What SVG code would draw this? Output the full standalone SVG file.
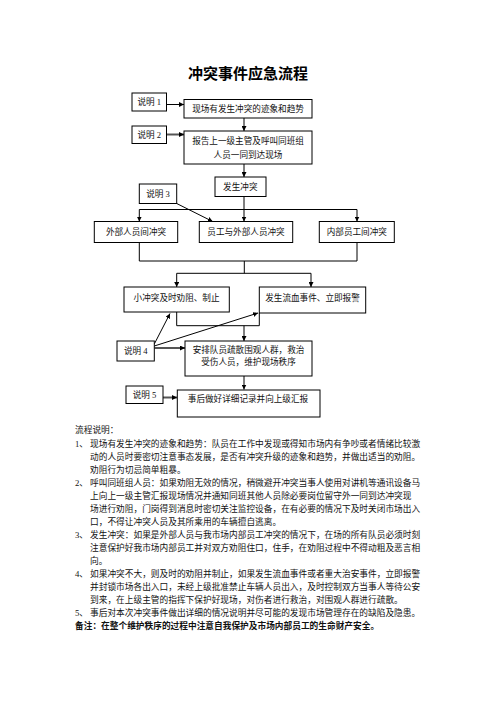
<svg xmlns="http://www.w3.org/2000/svg" width="496" height="702" viewBox="0 0 496 702">
<style>
.bx{fill:#fff;stroke:#000;stroke-width:1}
.t{font-family:"Liberation Serif","Noto Sans CJK SC",serif;font-size:8.6px;fill:#111;text-anchor:middle}
.n{font-family:"Liberation Serif","Noto Sans CJK SC",serif;font-size:8.7px;fill:#111}
.ln{fill:none;stroke:#000;stroke-width:1}
.ar{fill:none;stroke:#000;stroke-width:1;marker-end:url(#ah)}
.ag{fill:none;stroke:#555;stroke-width:2;marker-end:url(#ah)}
</style>
<defs>
<marker id="ah" viewBox="0 0 10 10" refX="10" refY="5" markerWidth="5" markerHeight="5" markerUnits="userSpaceOnUse" orient="auto">
<path d="M0,0 L10,5 L0,10 z" fill="#000"/>
</marker>
</defs>
<rect width="496" height="702" fill="#fff"/>
<text x="248" y="79" style="font-family:'Liberation Serif','Noto Sans CJK SC',serif;font-size:15px;font-weight:bold;text-anchor:middle" fill="#000">冲突事件应急流程</text>

<g id="connectors">
<path class="ar" d="M166.5,104.5 H184"/>
<path class="ag" d="M166.5,134.5 H184"/>
<path class="ar" d="M244,118 V131"/>
<path class="ar" d="M244,164 V177"/>
<path class="ln" d="M244,196.5 V209.5 M139.3,209.5 H357"/>
<path class="ar" d="M139.3,209.5 V221.5"/>
<path class="ar" d="M244,209.5 V221.5"/>
<path class="ar" d="M357,209.5 V221.5"/>
<path class="ar" d="M176.7,203.5 L212.7,221.5"/>
<path class="ln" d="M139.3,242.5 V261 H357 V242.5 M244.3,261 V273.3 M176.7,273.3 H311"/>
<path class="ar" d="M176.7,273.3 V287"/>
<path class="ar" d="M311,273.3 V287"/>
<path class="ln" d="M176.7,312 V325.7 H259.3 V313"/>
<path class="ar" d="M244,325.7 V341"/>
<path class="ar" d="M154.3,344 L170,313.5"/>
<path class="ar" d="M154.3,346 L258,313"/>
<path class="ag" d="M154.3,348 H185"/>
<path class="ar" d="M244,376 V389.5"/>
<path class="ag" d="M163,397.5 H177"/>
</g>

<g id="note1"><rect class="bx" x="132" y="93" width="34.5" height="18"/><text class="t" x="149.3" y="105">说明 1</text></g>
<g id="step1"><rect class="bx" x="184" y="99.5" width="128" height="18.5"/><text class="t" x="248" y="112">现场有发生冲突的迹象和趋势</text></g>
<g id="note2"><rect class="bx" x="132" y="126" width="34.5" height="17.5"/><text class="t" x="149.3" y="138">说明 2</text></g>
<g id="step2"><rect class="bx" x="184" y="131" width="128" height="33"/><text class="t" x="248" y="144">报告上一级主管及呼叫同班组</text><text class="t" x="248" y="157.5">人员一同到达现场</text></g>
<g id="conflict"><rect class="bx" x="215" y="177" width="51" height="19.5"/><text class="t" x="240.3" y="190">发生冲突</text></g>
<g id="note3"><rect class="bx" x="139.3" y="184" width="37.4" height="19.5"/><text class="t" x="158" y="197">说明 3</text></g>
<g id="external"><rect class="bx" x="94.3" y="221.5" width="83.4" height="21"/><text class="t" x="136" y="235">外部人员间冲突</text></g>
<g id="staffExternal"><rect class="bx" x="199.3" y="221.5" width="93.4" height="21"/><text class="t" x="246" y="235">员工与外部人员冲突</text></g>
<g id="internal"><rect class="bx" x="319.3" y="221.5" width="75" height="21"/><text class="t" x="356.8" y="235">内部员工间冲突</text></g>
<g id="minor"><rect class="bx" x="124" y="287" width="105.3" height="25"/><text class="t" x="176.6" y="301">小冲突及时劝阻、制止</text></g>
<g id="bleed"><rect class="bx" x="259.3" y="287" width="106.4" height="26"/><text class="t" x="312.5" y="300.5">发生流血事件、立即报警</text></g>
<g id="note4"><rect class="bx" x="117" y="341" width="37.3" height="20"/><text class="t" x="135.7" y="354">说明 4</text></g>
<g id="arrange"><rect class="bx" x="185" y="341" width="127" height="35"/><text class="t" x="248.5" y="353">安排队员疏散围观人群，救治</text><text class="t" x="248.5" y="365">受伤人员，维护现场秩序</text></g>
<g id="note5"><rect class="bx" x="126" y="386" width="37" height="17.5"/><text class="t" x="144.5" y="398">说明 5</text></g>
<g id="report"><rect class="bx" x="177.3" y="390" width="142.7" height="27"/><text class="t" x="248" y="401.5">事后做好详细记录并向上级汇报</text></g>

<g id="notes">
<text class="n" x="75" y="433.3">流程说明：</text>
<text class="n" x="75" y="446.5">1、</text>
<text class="n" x="90" y="446.5">现场有发生冲突的迹象和趋势：队员在工作中发现或得知市场内有争吵或者情绪比较激</text>
<text class="n" x="90" y="459.5">动的人员时要密切注意事态发展，是否有冲突升级的迹象和趋势，并做出适当的劝阻。</text>
<text class="n" x="90" y="472.5">劝阻行为切忌简单粗暴。</text>
<text class="n" x="75" y="485.5">2、</text>
<text class="n" x="90" y="485.5">呼叫同班组人员：如果劝阻无效的情况，稍微避开冲突当事人使用对讲机等通讯设备马</text>
<text class="n" x="90" y="498.5">上向上一级主管汇报现场情况并通知同班其他人员除必要岗位留守外一同到达冲突现</text>
<text class="n" x="90" y="511.5">场进行劝阻，门岗得到消息时密切关注监控设备，在有必要的情况下及时关闭市场出入</text>
<text class="n" x="90" y="524.5">口，不得让冲突人员及其所乘用的车辆擅自逃离。</text>
<text class="n" x="75" y="537.5">3、</text>
<text class="n" x="90" y="537.5">发生冲突：如果是外部人员与我市场内部员工冲突的情况下，在场的所有队员必须时刻</text>
<text class="n" x="90" y="550.5">注意保护好我市场内部员工并对双方劝阻住口，住手，在劝阻过程中不得动粗及恶言相</text>
<text class="n" x="90" y="563.5">向。</text>
<text class="n" x="75" y="576.5">4、</text>
<text class="n" x="90" y="576.5">如果冲突不大，则及时的劝阻并制止，如果发生流血事件或者重大治安事件，立即报警</text>
<text class="n" x="90" y="589.5">并封锁市场各出入口，未经上级批准禁止车辆人员出入，及时控制双方当事人等待公安</text>
<text class="n" x="90" y="602.5">到来，在上级主管的指挥下保护好现场，对伤者进行救治，对围观人群进行疏散。</text>
<text class="n" x="75" y="615.5">5、</text>
<text class="n" x="90" y="615.5">事后对本次冲突事件做出详细的情况说明并尽可能的发现市场管理存在的缺陷及隐患。</text>
<text class="n" x="75" y="628.7" style="font-weight:bold" fill="#000">备注：在整个维护秩序的过程中注意自我保护及市场内部员工的生命财产安全。</text>
</g>
</svg>
